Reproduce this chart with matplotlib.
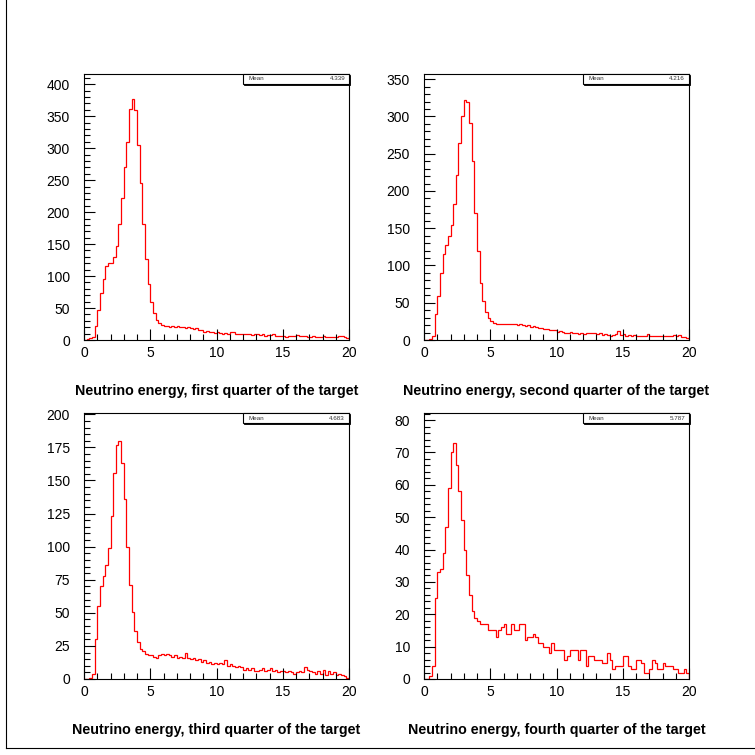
import matplotlib
matplotlib.use('Agg')
import matplotlib.pyplot as plt
import numpy as np
from matplotlib.ticker import MultipleLocator
from matplotlib.patches import Rectangle
from matplotlib.lines import Line2D

plt.rcParams['font.family'] = ['Liberation Sans', 'DejaVu Sans']

# ---- data (counts per 0.2 bin, 0..20) ----
bin_edges = np.linspace(0, 20, 101)

q1_counts = [0, 1, 3, 5, 22, 47, 74, 96, 116, 120, 121, 130, 147, 182, 222, 270, 310, 361, 377, 360,
             305, 245, 182, 127, 88, 60, 43, 32, 26, 23,
             22, 22, 21, 22, 21, 22, 21, 20, 19, 20, 18, 17, 18, 16, 15, 13, 14, 12, 13, 11,
             12, 11, 10, 11, 10, 12, 13, 10, 10, 9, 10, 9, 10, 8, 9, 9, 8, 9, 7, 8,
             8, 9, 7, 6, 6, 6, 5, 6, 7, 6, 8, 7, 6, 6, 5, 4, 6, 5, 4, 5,
             6, 5, 4, 5, 5, 4, 6, 7, 4, 3]

q2_counts = [0, 0, 2, 6, 35, 59, 90, 115, 128, 139, 155, 182, 222, 265, 300, 322, 320, 291, 240, 170,
             119, 77, 52, 38, 29, 25, 23, 22, 21, 21,
             22, 21, 22, 21, 22, 20, 21, 20, 19, 20, 18, 19, 17, 16, 16, 15, 15, 14, 14, 13,
             11, 12, 11, 10, 10, 11, 9, 10, 8, 9, 8, 9, 10, 9, 10, 8, 9, 7, 8, 7,
             6, 7, 8, 12, 7, 8, 6, 7, 6, 7, 6, 5, 6, 6, 8, 6, 5, 6, 5, 6,
             6, 5, 6, 5, 7, 6, 7, 4, 4, 3]

q3_counts = [0, 0, 1, 4, 30, 55, 70, 78, 86, 99, 123, 156, 177, 180, 163, 136, 100, 71, 51, 36,
             28, 23, 21, 19, 18, 18, 17, 16, 18, 19,
             18, 19, 18, 17, 18, 16, 17, 16, 20, 16, 15, 16, 14, 15, 13, 14, 12, 13, 11, 12,
             11, 12, 11, 14, 10, 11, 10, 9, 10, 9, 7, 8, 7, 8, 6, 6, 7, 8, 6, 7,
             8, 6, 7, 5, 6, 6, 5, 6, 5, 4, 5, 6, 5, 9, 7, 6, 5, 4, 6, 4,
             7, 3, 6, 4, 5, 3, 4, 3, 2, 1]

q4_counts = [0, 0, 1, 4, 25, 33, 34, 39, 47, 59, 70, 73, 66, 58, 49, 40, 32, 26, 21, 19,
             18, 17, 17, 17, 15, 15, 15, 13, 15, 16, 17, 14, 14, 17, 15,
             15, 17, 17, 12, 13, 13, 14, 13, 11, 11, 10, 10, 8, 11, 9,
             9, 9, 9, 6, 7, 9, 9, 9, 6, 9, 9, 4, 7, 7, 6,
             6, 6, 5, 5, 8, 6, 3, 4, 4, 4, 7, 7, 4, 3, 3,
             6, 6, 5, 2, 2, 3, 6, 5, 3, 3, 5, 4, 4, 4, 3,
             3, 2, 2, 3, 2]

titles = ["Neutrino energy, first quarter of the target",
          "Neutrino energy, second quarter of the target",
          "Neutrino energy, third quarter of the target",
          "Neutrino energy, fourth quarter of the target"]
mean_labels = ["4.339", "4.216", "4.683", "5.787"]
series = [q1_counts, q2_counts, q3_counts, q4_counts]

# ---- layout / style ----
W = 755.0
panel_px = [(84, 340), (424, 340), (84, 679), (424, 679)]  # (left, bottom) in pixels from top-left
ytops = [416, 357, 201, 82.2]
ymajor = [50, 50, 25, 10]
yminor = [10, 10, 5, 2]

fig = plt.figure(figsize=(7.55, 7.55), dpi=100)
fig.patch.set_facecolor('white')

for i in range(4):
    l, b = panel_px[i]
    ax = fig.add_axes([l / W, (W - b) / W, 265 / W, 266 / W])
    ax.stairs(series[i], bin_edges, color='red', lw=0.9, baseline=0)
    ax.set_xlim(0, 20)
    ax.set_ylim(0, ytops[i])
    ax.xaxis.set_major_locator(MultipleLocator(5))
    ax.xaxis.set_minor_locator(MultipleLocator(1))
    ax.yaxis.set_major_locator(MultipleLocator(ymajor[i]))
    ax.yaxis.set_minor_locator(MultipleLocator(yminor[i]))
    ax.tick_params(which='both', direction='in', top=False, right=False,
                   labelsize=10, width=0.8, color='black')
    ax.tick_params(which='major', length=8)
    ax.tick_params(which='minor', length=4)
    ax.tick_params(axis='y', which='both', pad=10)
    ax.tick_params(axis='x', which='both', pad=4.5)
    for sp in ax.spines.values():
        sp.set_linewidth(0.8)
    ax.text(0.5, -0.19, titles[i], transform=ax.transAxes, ha='center', va='center',
            fontweight='bold', fontsize=10.3)
    # stats box with shadow
    bh = 10 / 266.0
    sh = Rectangle((0.6 + 1.0 / 265, 1 - bh - 1.0 / 266), 0.4, bh, transform=ax.transAxes,
                   facecolor='black', edgecolor='black', lw=0.6, clip_on=False, zorder=5)
    box = Rectangle((0.6, 1 - bh), 0.4, bh, transform=ax.transAxes,
                    facecolor='white', edgecolor='black', lw=0.8, clip_on=False, zorder=6)
    ax.add_patch(sh)
    ax.add_patch(box)
    ax.text(0.62, 1 - bh / 2, "Mean", transform=ax.transAxes, ha='left', va='center',
            fontsize=4.5, color='#333333', zorder=7)
    ax.text(0.985, 1 - bh / 2, mean_labels[i], transform=ax.transAxes, ha='right', va='center',
            fontsize=4.5, color='#333333', zorder=7)

# canvas border (left and bottom)
fig.add_artist(Line2D([6 / W, 6 / W], [7 / W, 1], transform=fig.transFigure, color='black', lw=0.8))
fig.add_artist(Line2D([6 / W, 1], [7 / W, 7 / W], transform=fig.transFigure, color='black', lw=0.8))

fig.savefig('out.png', dpi=100, facecolor='white')
